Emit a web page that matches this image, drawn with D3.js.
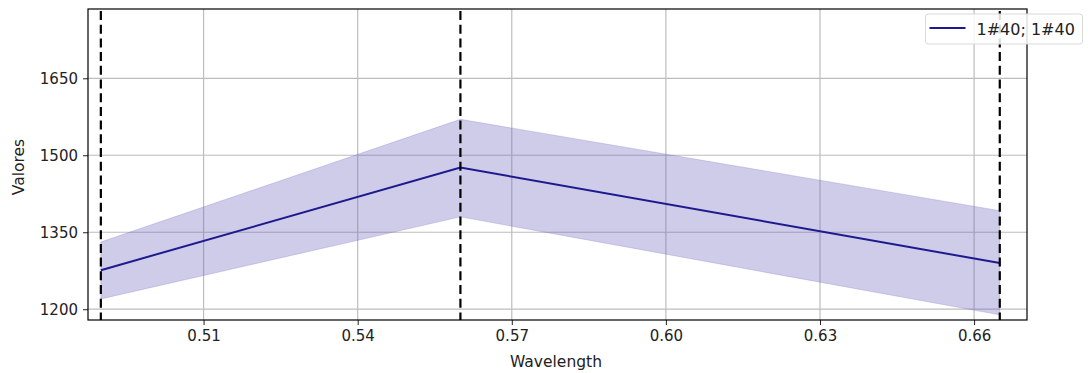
<!DOCTYPE html>
<html>
<head>
<meta charset="utf-8">
<script src="https://cdn.jsdelivr.net/npm/d3@7"></script>
<style>
  body { margin: 0; background: #fff; }
  text { font-family: "DejaVu Sans", sans-serif; }
</style>
</head>
<body>
<div id="chart"></div>
<script>
// values
const wavelengths = [0.49, 0.56, 0.665];
const meanValues = [1276, 1476, 1290];
const upperValues = [1331, 1570, 1392];
const lowerValues = [1220, 1380, 1189];
const xTicks = [0.51, 0.54, 0.57, 0.60, 0.63, 0.66];
const yTicks = [1200, 1350, 1500, 1650];
const seriesLabel = "1#40; 1#40";

const width = 1088, height = 373;
const margin = { top: 9, right: 61, bottom: 53, left: 88 };
const innerW = width - margin.left - margin.right;
const innerH = height - margin.top - margin.bottom;

const svg = d3.select("#chart").append("svg")
    .attr("width", width)
    .attr("height", height);

const x = d3.scaleLinear().domain([0.4875, 0.6703]).range([0, innerW]);
const y = d3.scaleLinear().domain([1179, 1785]).range([innerH, 0]);

const g = svg.append("g").attr("transform", `translate(${margin.left},${margin.top})`);

// grid
g.append("g").selectAll("line").data(xTicks).join("line")
    .attr("x1", d => x(d)).attr("x2", d => x(d))
    .attr("y1", 0).attr("y2", innerH)
    .attr("stroke", "#bdbdbd").attr("stroke-width", 1.2);
g.append("g").selectAll("line").data(yTicks).join("line")
    .attr("y1", d => y(d)).attr("y2", d => y(d))
    .attr("x1", 0).attr("x2", innerW)
    .attr("stroke", "#bdbdbd").attr("stroke-width", 1.2);

const pts = wavelengths.map((w, i) => ({ w, m: meanValues[i], hi: upperValues[i], lo: lowerValues[i] }));

// band
g.append("path")
    .datum(pts)
    .attr("d", d3.area().x(d => x(d.w)).y0(d => y(d.lo)).y1(d => y(d.hi)))
    .attr("fill", "rgba(110,100,190,0.33)")
    .attr("stroke", "rgba(110,100,190,0.25)")
    .attr("stroke-width", 1);

// mean line
g.append("path")
    .datum(pts)
    .attr("d", d3.line().x(d => x(d.w)).y(d => y(d.m)))
    .attr("fill", "none")
    .attr("stroke", "#1d1a8e")
    .attr("stroke-width", 2);

// vertical dashed markers
g.append("g").selectAll("line").data(wavelengths).join("line")
    .attr("x1", d => x(d)).attr("x2", d => x(d))
    .attr("y1", 2).attr("y2", innerH)
    .attr("stroke", "#000").attr("stroke-width", 2.2)
    .attr("stroke-dasharray", "9,4.7");

// axes
const xAxis = g.append("g")
    .attr("transform", `translate(0,${innerH})`)
    .call(d3.axisBottom(x).tickValues(xTicks).tickFormat(d3.format(".2f")).tickSize(5).tickPadding(5));
const yAxis = g.append("g")
    .call(d3.axisLeft(y).tickValues(yTicks).tickFormat(d3.format("d")).tickSize(5).tickPadding(5));
[xAxis, yAxis].forEach(a => {
  a.select(".domain").remove();
  a.selectAll("text").attr("font-size", 15).attr("fill", "#222").style("font-family", "DejaVu Sans, sans-serif");
  a.selectAll(".tick line").attr("stroke", "#222");
});

// frame
g.append("rect")
    .attr("width", innerW).attr("height", innerH)
    .attr("fill", "none").attr("stroke", "#000").attr("stroke-width", 1.2);

// labels
svg.append("text")
    .attr("x", 556).attr("y", 367)
    .attr("text-anchor", "middle").attr("font-size", 15.5).attr("fill", "#222")
    .text("Wavelength");
svg.append("text")
    .attr("transform", `translate(24,167) rotate(-90)`)
    .attr("text-anchor", "middle").attr("font-size", 15.5).attr("fill", "#222")
    .text("Valores");

// legend
const lg = svg.append("g").attr("transform", "translate(925.5,14)");
lg.append("rect")
    .attr("width", 157).attr("height", 30).attr("rx", 3)
    .attr("fill", "rgba(255,255,255,0.85)").attr("stroke", "#d9d9d9");
lg.append("line")
    .attr("x1", 4).attr("x2", 40).attr("y1", 14).attr("y2", 14)
    .attr("stroke", "#1d1a8e").attr("stroke-width", 2);
lg.append("text")
    .attr("x", 51).attr("y", 20.5)
    .attr("font-size", 16).attr("fill", "#222")
    .text(seriesLabel);
</script>
</body>
</html>
